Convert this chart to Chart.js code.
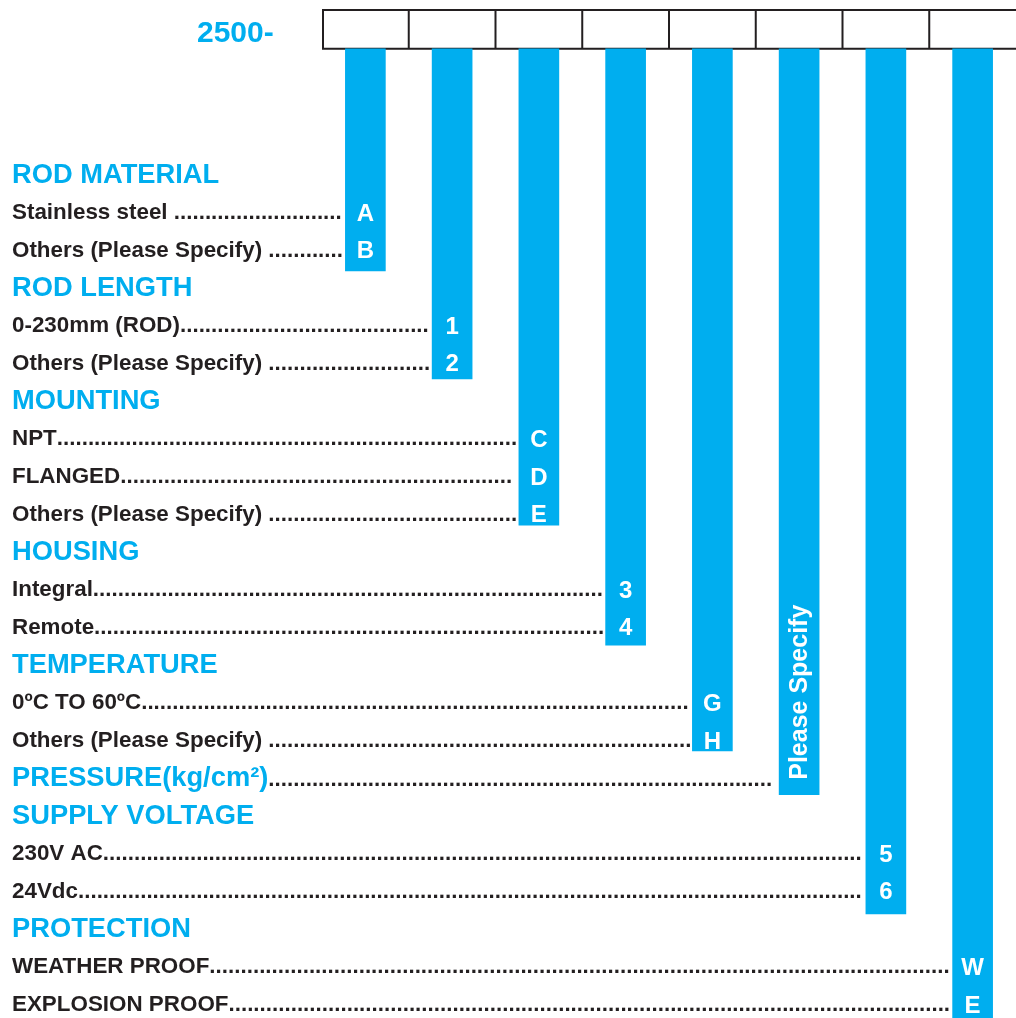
<!DOCTYPE html>
<html>
<head>
<meta charset="utf-8">
<script src="https://cdn.jsdelivr.net/npm/chart.js@4.4.0/dist/chart.umd.min.js"></script>
<style>
  html, body { margin: 0; padding: 0; background: #fff; }
  #wrap { width: 1016px; height: 1018px; position: relative; }
</style>
</head>
<body>
<div id="wrap"><canvas id="grafico"></canvas></div>
<script>
// Secciones del código de pedido (una columna por sección)
const secciones = ['ROD MATERIAL', 'ROD LENGTH', 'MOUNTING', 'HOUSING', 'TEMPERATURE', 'PRESSURE(kg/cm²)', 'SUPPLY VOLTAGE', 'PROTECTION'];

// Opciones de cada sección
const opciones = [
    ['Stainless steel ', 'Others (Please Specify) '],
    ['0-230mm (ROD)', 'Others (Please Specify) '],
    ['NPT', 'FLANGED', 'Others (Please Specify) '],
    ['Integral', 'Remote'],
    ['0ºC TO 60ºC', 'Others (Please Specify) '],
    [],
    ['230V AC', '24Vdc'],
    ['WEATHER PROOF', 'EXPLOSION PROOF']
];

// Letra / número de código de cada opción
const codigos = [['A', 'B'], ['1', '2'], ['C', 'D', 'E'], ['3', '4'], ['G', 'H'], ['Please Specify'], ['5', '6'], ['W', 'E']];

// Extremo inferior de cada barra (en filas de texto)
const finBarras = [2.59, 5.45, 9.33, 12.51, 15.32, 16.48, 19.64, 23.5];
const inicioBarras = -3.30;   // borde inferior de la fila de casillas

const prefijo = '2500-';

const AZUL = '#00aeef';
const NEGRO = '#231f20';
const FUENTE = '"Liberation Sans", Arial, sans-serif';

// fila que ocupa cada texto
function construirFilas() {
    const filas = [];
    let r = 0;
    secciones.forEach((s, i) => {
        if (opciones[i].length === 0) {
            filas.push({ texto: s, tipo: 'titulo', col: i, codigo: null, r: r, puntos: true });
            r++;
            return;
        }
        filas.push({ texto: s, tipo: 'titulo', col: i, codigo: null, r: r, puntos: false });
        r++;
        opciones[i].forEach((o, j) => {
            filas.push({ texto: o, tipo: 'item', col: i, codigo: codigos[i][j], r: r, puntos: true });
            r++;
        });
    });
    return filas;
}
const filas = construirFilas();

const textosPlugin = {
    id: 'textos',
    beforeDatasetsDraw(chart) {
        const ctx = chart.ctx;
        const x = chart.scales.x, y = chart.scales.y;
        const banda = x.width / secciones.length;
        const izq = x.left;
        const arriba = y.getPixelForValue(-4.33);
        const abajo = y.getPixelForValue(inicioBarras);
        ctx.save();
        ctx.strokeStyle = NEGRO;
        ctx.lineWidth = 2;
        ctx.beginPath();
        ctx.moveTo(izq, arriba); ctx.lineTo(chart.width, arriba);
        ctx.moveTo(izq, abajo); ctx.lineTo(chart.width, abajo);
        for (let i = 0; i < secciones.length; i++) {
            const bx = izq + banda * i + (i === 0 ? 1 : 0);
            ctx.moveTo(bx, arriba - 1); ctx.lineTo(bx, abajo + 1);
        }
        ctx.stroke();

        // prefijo del modelo
        ctx.fillStyle = AZUL;
        ctx.font = 'bold 30px ' + FUENTE;
        ctx.textBaseline = 'alphabetic';
        ctx.fillText(prefijo, 197, (arriba + abajo) / 2 + 12.5);
        ctx.restore();
    },
    afterDatasetsDraw(chart) {
        const ctx = chart.ctx;
        const y = chart.scales.y;
        const meta = chart.getDatasetMeta(0);
        ctx.save();
        ctx.textBaseline = 'alphabetic';
        filas.forEach(f => {
            const py = y.getPixelForValue(f.r);
            const bar = meta.data[f.col];
            const barIzq = bar.x - bar.width / 2;
            const tam = f.tipo === 'titulo' ? 27.3 : 22.4;
            ctx.font = 'bold ' + tam + 'px ' + FUENTE;
            ctx.fillStyle = f.tipo === 'titulo' ? AZUL : NEGRO;
            ctx.textAlign = 'left';
            const base = py + tam * 0.716 / 2;
            ctx.fillText(f.texto, 12, base);
            if (f.puntos) {
                const fin = 12 + ctx.measureText(f.texto).width;
                ctx.font = 'bold 22.4px ' + FUENTE;
                ctx.fillStyle = NEGRO;
                const ancho = ctx.measureText('.').width;
                const n = Math.floor((barIzq - 1 - fin) / ancho);
                ctx.fillText('.'.repeat(Math.max(n, 0)), fin, base);
            }
            if (f.codigo) {
                ctx.font = 'bold 24px ' + FUENTE;
                ctx.fillStyle = '#fff';
                ctx.textAlign = 'center';
                ctx.fillText(f.codigo, bar.x, py + 1 + 24 * 0.716 / 2);
            }
        });
        // código vertical de presión
        const col = secciones.indexOf('PRESSURE(kg/cm²)');
        const bar = meta.data[col];
        ctx.translate(bar.x, y.getPixelForValue(finBarras[col]) - 15);
        ctx.rotate(-Math.PI / 2);
        ctx.font = 'bold 25px ' + FUENTE;
        ctx.fillStyle = '#fff';
        ctx.textAlign = 'left';
        ctx.textBaseline = 'middle';
        ctx.fillText(codigos[col][0], 0, 1);
        ctx.restore();
    }
};

new Chart(document.getElementById('grafico'), {
    type: 'bar',
    data: {
        labels: secciones,
        datasets: [{
            data: finBarras.map(f => [inicioBarras, f]),
            backgroundColor: AZUL,
            borderWidth: 0,
            barThickness: 40,
            clip: false
        }]
    },
    options: {
        responsive: true,
        maintainAspectRatio: false,
        animation: false,
        layout: { padding: { left: 322, right: 0, top: 0, bottom: 0 } },
        plugins: { legend: { display: false }, tooltip: { enabled: false } },
        scales: {
            x: { display: false, offset: true },
            y: { display: false, reverse: true, min: -4.596, max: 22.40 }
        }
    },
    plugins: [textosPlugin]
});
</script>
</body>
</html>
